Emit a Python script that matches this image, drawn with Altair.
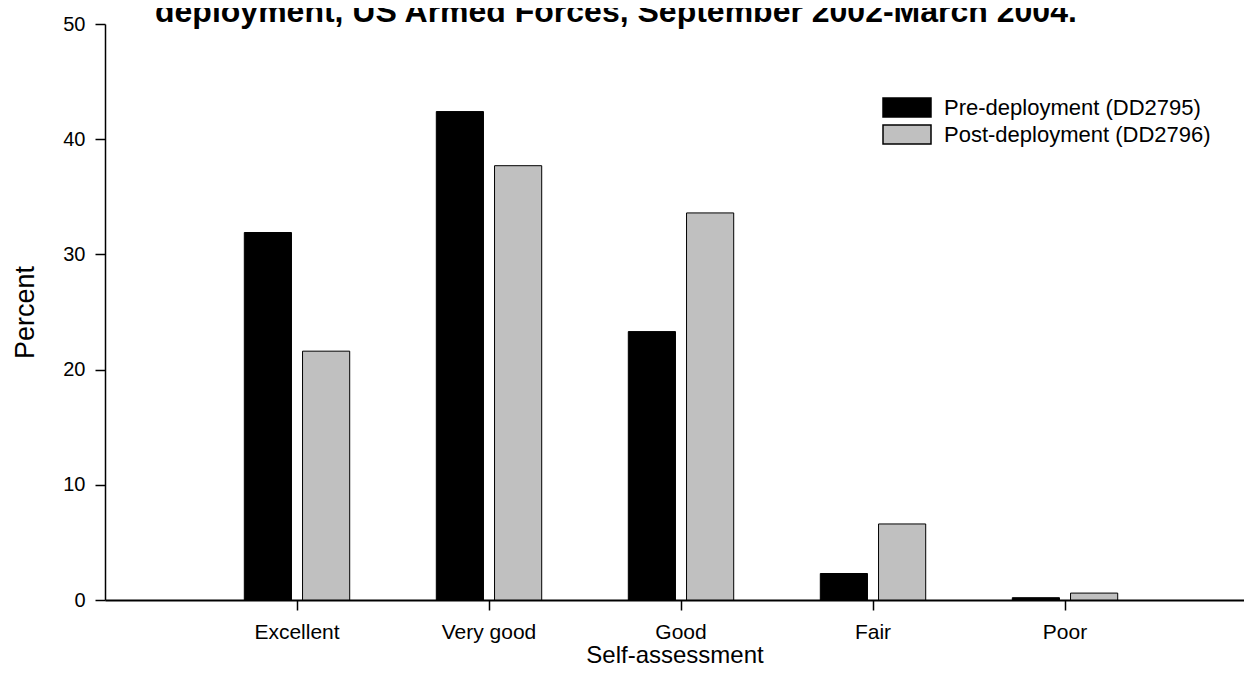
import altair as alt
import pandas as pd

categories = ["Excellent", "Very good", "Good", "Fair", "Poor"]
series = ["Pre-deployment (DD2795)", "Post-deployment (DD2796)"]
pre_values = [31.9, 42.4, 23.3, 2.3, 0.2]
post_values = [21.6, 37.7, 33.6, 6.6, 0.6]
y_ticks = [0, 10, 20, 30, 40, 50]
title_text = "deployment, US Armed Forces, September 2002-March 2004."

rows = []
for c, p, q in zip(categories, pre_values, post_values):
    rows.append({"cat": c, "series": series[0], "pct": p})
    rows.append({"cat": c, "series": series[1], "pct": q})
df = pd.DataFrame(rows)
title_df = pd.DataFrame({"t": [title_text]})

font = "Liberation Sans"

bars = alt.Chart(df).mark_bar(stroke="black", strokeWidth=1).encode(
    x=alt.X(
        "cat:N", sort=categories, title="Self-assessment",
        scale=alt.Scale(paddingInner=0.451, paddingOuter=0.6917, align=0.5245),
        axis=alt.Axis(labelAngle=0, labelFont=font, labelFontSize=21, labelColor="black",
                      labelPadding=11, tickSize=10, tickColor="black", tickWidth=1.5,
                      domainColor="black", domainWidth=2, titleFont=font, titleFontSize=24,
                      titleFontWeight="normal", titleColor="black",
                      titleBaseline="alphabetic", titleY=62),
    ),
    xOffset=alt.XOffset("series:N", sort=series,
                        scale=alt.Scale(paddingInner=0.19, paddingOuter=0)),
    y=alt.Y(
        "pct:Q", title="Percent",
        scale=alt.Scale(domain=[0, 50], nice=False),
        axis=alt.Axis(values=y_ticks, grid=False, labelFont=font, labelFontSize=20,
                      labelColor="black", labelPadding=10, tickSize=10, tickColor="black",
                      tickWidth=1.5, domainColor="black", domainWidth=1.5, titleFont=font,
                      titleFontSize=27, titleFontWeight="normal", titleColor="black",
                      titlePadding=23),
    ),
    fill=alt.Fill(
        "series:N", sort=series,
        scale=alt.Scale(domain=series, range=["#000000", "#c0c0c0"]),
        legend=alt.Legend(title=None, orient="none", legendX=777, legendY=71,
                          symbolType="M-1,-0.4H1V0.4H-1Z", symbolSize=2304,
                          symbolStrokeColor="black", symbolStrokeWidth=1.5,
                          labelFont=font, labelFontSize=22, labelColor="black",
                          labelOffset=12, labelLimit=0, clipHeight=25, rowPadding=2),
    ),
)

title_mark = alt.Chart(title_df).mark_text(
    font=font, fontSize=32, fontWeight="bold", color="black",
    align="left", baseline="alphabetic",
).encode(x=alt.value(50), y=alt.value(-2), text="t:N")

chart = alt.layer(bars, title_mark).properties(
    width=1139, height=576,
    background="white",
    autosize=alt.AutoSizeParams(type="none"),
    padding={"left": 97, "top": 16, "right": 0, "bottom": 67},
).configure_view(stroke=None)

chart.save("out.html", embed_options={"renderer": "svg", "actions": False})
